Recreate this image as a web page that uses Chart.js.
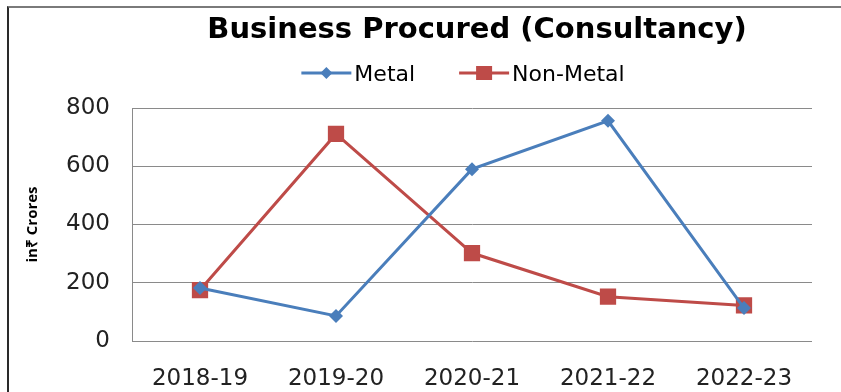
<!DOCTYPE html>
<html>
<head>
<meta charset="utf-8">
<script src="https://cdn.jsdelivr.net/npm/chart.js@4/dist/chart.umd.min.js"></script>
<style>
  html, body { margin: 0; padding: 0; background: #fff; }
  #wrap { position: relative; width: 841px; height: 392px; overflow: hidden; }
  #frame { position: absolute; left: 7px; top: 6px; width: 900px; height: 500px;
           border-left: 2px solid #2a2a2a; border-top: 2px solid #7a7a7a; }
  #c { position: absolute; left: 0; top: 0; }
</style>
</head>
<body>
<div id="wrap">
  <div id="frame"></div>
  <canvas id="c" width="841" height="392"></canvas>
</div>
<script>
const chartTitle = 'Business Procured (Consultancy)';
const yAxisTitle = 'in₹ Crores';
const categories = ['2018-19', '2019-20', '2020-21', '2021-22', '2022-23'];
const metal = [182, 86, 590, 756, 113];
const nonMetal = [175, 711, 302, 152, 122];
const yTicks = [0, 200, 400, 600, 800];

const BLUE = '#4a7ebb';
const RED = '#be4b48';

function drawIcon(g, x, y, color, shape) {
  g.save();
  g.strokeStyle = color; g.lineWidth = 3;
  g.beginPath(); g.moveTo(x, y); g.lineTo(x + 50, y); g.stroke();
  g.fillStyle = color;
  if (shape === 'diamond') {
    g.beginPath(); g.moveTo(x + 25, y - 6); g.lineTo(x + 31, y); g.lineTo(x + 25, y + 6); g.lineTo(x + 19, y); g.closePath(); g.fill();
  } else {
    g.fillRect(x + 17, y - 7, 16, 14);
  }
  g.restore();
}

const headerPlugin = {
  id: 'header',
  afterDraw(chart) {
    const g = chart.ctx;
    const area = chart.chartArea;
    const cx = (area.left + area.right) / 2;
    g.save();
    // title
    g.font = 'bold 29px "DejaVu Sans"';
    g.fillStyle = '#000';
    g.textAlign = 'center';
    g.textBaseline = 'alphabetic';
    g.fillText(chartTitle, cx + 5, 38);
    // legend
    g.font = '22px "DejaVu Sans"';
    g.textAlign = 'left';
    const items = chart.data.datasets.map((ds, i) => ({
      label: ds.label, color: ds.borderColor, shape: i === 0 ? 'diamond' : 'square'
    }));
    const iconW = 50, gapIT = 3, gapItems = 44;
    let total = 0;
    items.forEach((it, i) => {
      it.w = g.measureText(it.label).width;
      total += iconW + gapIT + it.w + (i ? gapItems : 0);
    });
    let x = cx - 9 - total / 2;
    items.forEach((it) => {
      drawIcon(g, x, 73, it.color, it.shape);
      g.fillStyle = '#000';
      g.fillText(it.label, x + iconW + gapIT, 81);
      x += iconW + gapIT + it.w + gapItems;
    });
    g.restore();
  }
};

new Chart(document.getElementById('c'), {
  type: 'line',
  data: {
    labels: categories,
    datasets: [
      { label: 'Metal', data: metal, borderColor: BLUE, backgroundColor: BLUE,
        borderWidth: 3, pointStyle: 'rectRot', pointRadius: 7, pointBorderWidth: 0, tension: 0 },
      { label: 'Non-Metal', data: nonMetal, borderColor: RED, backgroundColor: RED,
        borderWidth: 3, pointStyle: 'rect', pointRadius: 11.5, pointBorderWidth: 0, tension: 0 }
    ]
  },
  plugins: [headerPlugin],
  options: {
    responsive: false,
    animation: false,
    devicePixelRatio: 1,
    layout: { padding: { left: 8, right: 29, top: 108, bottom: 0 } },
    plugins: {
      tooltip: { enabled: false },
      title: { display: false },
      legend: { display: false }
    },
    scales: {
      x: {
        offset: true,
        grid: { display: false, drawTicks: false },
        border: { display: false },
        ticks: { color: '#222', font: { family: 'DejaVu Sans', size: 23 }, padding: 24, maxRotation: 0 },
        afterFit: (s) => { s.height = 51; }
      },
      y: {
        min: 0, max: 800,
        afterBuildTicks: (s) => { s.ticks = yTicks.map(v => ({ value: v })); },
        grid: { color: '#8a8a8a', lineWidth: 1, drawTicks: false },
        border: { display: true, color: '#8a8a8a', width: 1 },
        ticks: { color: '#222', font: { family: 'DejaVu Sans', size: 23 }, padding: 22 },
        title: { display: true, text: yAxisTitle, color: '#000',
          font: { family: 'Open Sans', weight: 'bold', size: 15 }, padding: { top: 16, bottom: 0 } },
        afterFit: (s) => { s.width = 124; }
      }
    }
  }
});
</script>
</body>
</html>
